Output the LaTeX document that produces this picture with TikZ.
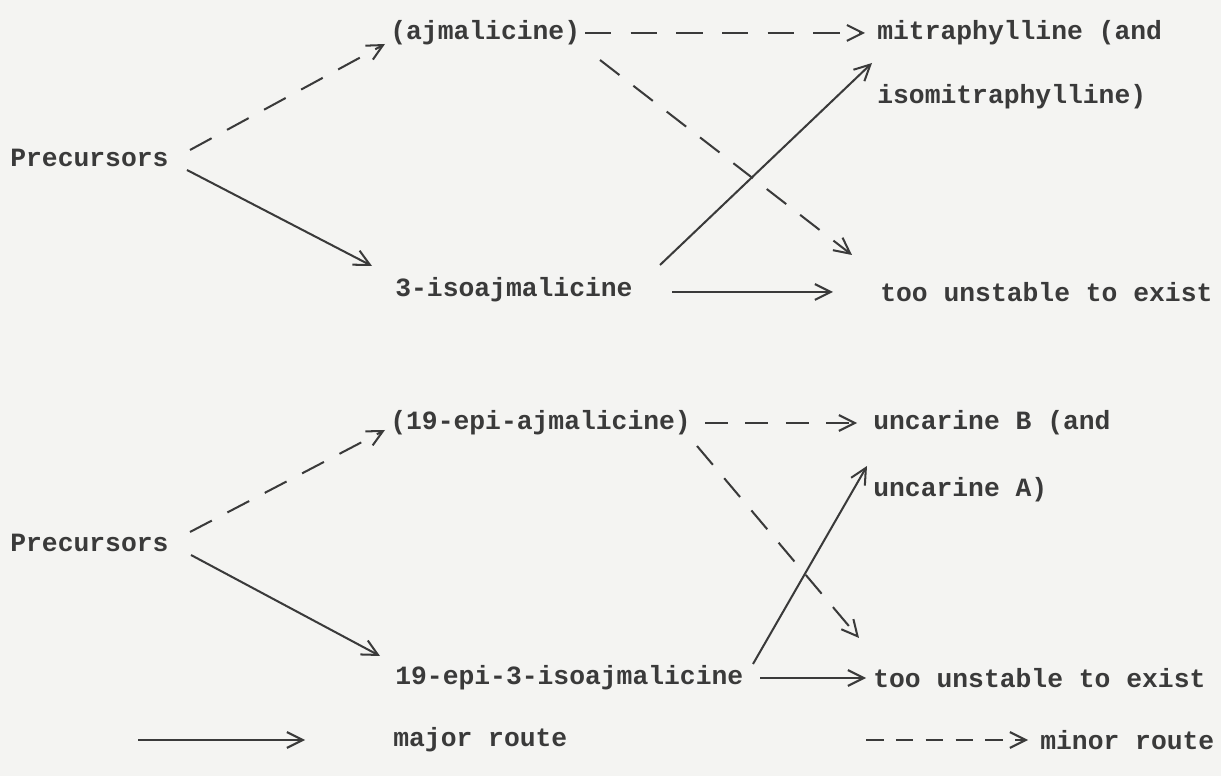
\documentclass[tikz,border=0pt]{standalone}
\usepackage{fontspec}
\setmonofont{Liberation Mono}
\usetikzlibrary{arrows.meta}
\definecolor{ink}{RGB}{58,58,58}
\definecolor{paper}{RGB}{244,244,242}
\begin{document}
\begin{tikzpicture}[x=0.02cm,y=-0.02cm,
  lbl/.style={anchor=west,inner sep=0pt,text=ink,font=\ttfamily\bfseries\fontsize{15}{18}\selectfont},
  major/.style={draw=ink,line width=1.15pt,-{Straight Barb[length=9pt,width=9pt,line width=1.15pt]}},
  minor/.style={major,dash pattern=on 14pt off 10pt}]
\fill[paper] (0,0) rectangle (1221,776);
\useasboundingbox (0,0) rectangle (1221,776);
% top block
\node[lbl] (ajm)    at (390,33)  {(ajmalicine)};
\node[lbl] (mit)    at (877,33)  {mitraphylline (and};
\node[lbl] (isomit) at (877,97)  {isomitraphylline)};
\node[lbl] (pre1)   at (10,158)  {Precursors};
\node[lbl] (iso3)   at (395,290) {3-isoajmalicine};
\node[lbl] (tu1)    at (880,292) {too unstable to exist};
% bottom block
\node[lbl] (eajm)   at (390,423) {(19-epi-ajmalicine)};
\node[lbl] (uncB)   at (873,423) {uncarine B (and};
\node[lbl] (uncA)   at (873,490) {uncarine A)};
\node[lbl] (pre2)   at (10,543)  {Precursors};
\node[lbl] (eiso)   at (395,678) {19-epi-3-isoajmalicine};
\node[lbl] (tu2)    at (873,678) {too unstable to exist};
% legend
\node[lbl] (major)  at (393,740) {major route};
\node[lbl] (minor)  at (1040,740) {minor route};
\coordinate (ls) at (138,740);
\coordinate (le) at (305,740);
\coordinate (ds) at (866,740);
\coordinate (de) at (1028,740);
% top connectors
\draw[minor] ([shift={(180,-8)}]pre1.west) -- ([shift={(-5,11)}]ajm.west);
\draw[major] ([shift={(177,12)}]pre1.west) -- ([shift={(-23,-24)}]iso3.west);
\draw[minor,dash pattern=on 15pt off 11pt] ([shift={(195,0)}]ajm.west) -- ([shift={(-12,0)}]mit.west);
\draw[minor] ([shift={(210,27)}]ajm.west) -- ([shift={(-28,-37)}]tu1.west);
\draw[major] ([shift={(265,-25)}]iso3.west) -- ([shift={(-5,30)}]mit.west);
\draw[major] ([shift={(277,2)}]iso3.west) -- ([shift={(-47,0)}]tu1.west);
% bottom connectors
\draw[minor] ([shift={(180,-11)}]pre2.west) -- ([shift={(-5,7)}]eajm.west);
\draw[major] ([shift={(181,12)}]pre2.west) -- ([shift={(-15,-22)}]eiso.west);
\draw[minor,dash pattern=on 13pt off 10pt] ([shift={(315,0)}]eajm.west) -- ([shift={(-16,0)}]uncB.west);
\draw[minor] ([shift={(307,23)}]eajm.west) -- ([shift={(-14,-40)}]tu2.west);
\draw[major] ([shift={(358,-14)}]eiso.west) -- ([shift={(-6,43)}]uncB.west);
\draw[major] ([shift={(365,0)}]eiso.west) -- ([shift={(-7,0)}]tu2.west);
% legend connectors
\draw[major] (ls) -- (le);
\draw[minor,dash pattern=on 10pt off 7pt] (ds) -- (de);
\end{tikzpicture}
\end{document}
